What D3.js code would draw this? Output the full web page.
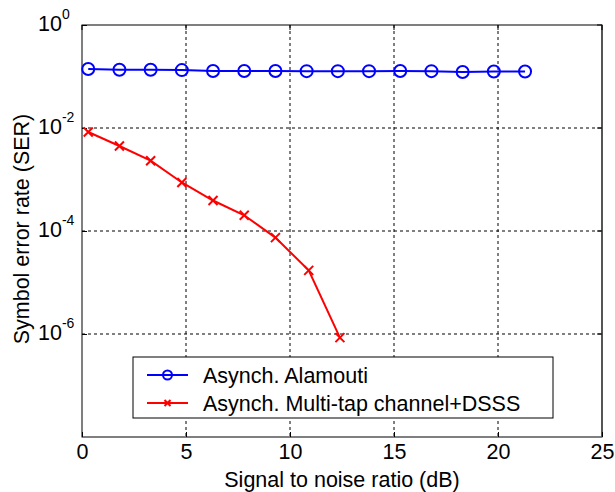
<!DOCTYPE html>
<html><head><meta charset="utf-8">
<script src="https://cdn.jsdelivr.net/npm/d3@7"></script>
<style>body{margin:0;background:#fff;} text{font-family:"Liberation Sans",Arial,sans-serif;}</style>
</head><body>
<svg id="c" width="615" height="492"></svg>
<script>
const snrA = [0.3,1.8,3.3,4.8,6.3,7.8,9.3,10.8,12.3,13.8,15.3,16.8,18.3,19.8,21.3];
const serA = [0.14,0.135,0.135,0.133,0.128,0.128,0.128,0.127,0.127,0.127,0.128,0.127,0.122,0.125,0.125];
const snrB = [0.3,1.8,3.3,4.8,6.3,7.8,9.3,10.9,12.4];
const serB = [8.35e-3,4.47e-3,2.32e-3,8.75e-4,3.91e-4,2.02e-4,7.44e-5,1.72e-5,8.5e-7];
const xTicks = [0,5,10,15,20,25];
const yTicks = [1e0,1e-2,1e-4,1e-6];
const yExp = ["0","-2","-4","-6"];
const names = ["Asynch. Alamouti","Asynch. Multi-tap channel+DSSS"];

const FS = 21.5;
const svg = d3.select("#c");
const L=82,R=602,T=25,B=437;
const x = d3.scaleLinear().domain([0,25]).range([L,R]);
const y = d3.scaleLog().domain([1e-8,1]).range([B,T]);

// grid
const g = svg.append("g");
g.selectAll(".gx").data(xTicks.filter(d=>d>0&&d<25)).enter().append("line")
 .attr("x1",d=>x(d)).attr("x2",d=>x(d)).attr("y1",T).attr("y2",B)
 .attr("stroke","#000").attr("stroke-width",1).attr("stroke-dasharray","3,3");
g.selectAll(".gy").data(yTicks.filter(d=>d<1)).enter().append("line")
 .attr("y1",d=>y(d)).attr("y2",d=>y(d)).attr("x1",L).attr("x2",R)
 .attr("stroke","#000").attr("stroke-width",1).attr("stroke-dasharray","3,3");

// box
svg.append("rect").attr("x",L).attr("y",T).attr("width",R-L).attr("height",B-T)
 .attr("fill","none").attr("stroke","#000").attr("stroke-width",1);
svg.append("line").attr("x1",R).attr("x2",R).attr("y1",T).attr("y2",B).attr("stroke","#555").attr("stroke-width",2);

// x axis ticks (inside)
const xa = d3.axisBottom(x).tickValues(xTicks).tickSize(-5).tickPadding(7).tickFormat(d3.format("d"));
const gx = svg.append("g").attr("transform",`translate(0,${B})`).call(xa);
gx.select(".domain").remove();
gx.selectAll("text").attr("font-size",FS).attr("font-family","Liberation Sans, Arial, sans-serif").attr("fill","#000");
gx.selectAll("line").attr("stroke","#000");
svg.selectAll(".tt").data(xTicks).enter().append("line")
 .attr("x1",d=>x(d)).attr("x2",d=>x(d)).attr("y1",T).attr("y2",T+5).attr("stroke","#000");
// y ticks
const ya = d3.axisLeft(y).tickValues(yTicks).tickSize(-5).tickFormat("");
const gy = svg.append("g").attr("transform",`translate(${L},0)`).call(ya);
gy.select(".domain").remove();
gy.selectAll("line").attr("stroke","#000");
svg.selectAll(".rt").data(yTicks).enter().append("line")
 .attr("x1",R).attr("x2",R-5).attr("y1",d=>y(d)).attr("y2",d=>y(d)).attr("stroke","#000");

// y tick labels with superscripts
yTicks.forEach((v,i)=>{
  const t = svg.append("text").attr("x",38).attr("y",y(v)+5.5).attr("text-anchor","start")
   .attr("font-size",FS).attr("fill","#000");
  t.append("tspan").text("10");
  t.append("tspan").attr("dy",-12).attr("font-size",14).text(yExp[i]);
});

// series
const lineA = d3.line().x((d,i)=>x(snrA[i])).y(d=>y(d));
svg.append("path").attr("d",lineA(serA)).attr("fill","none").attr("stroke","#0000ff").attr("stroke-width",2);
svg.selectAll(".ma").data(serA).enter().append("circle")
 .attr("cx",(d,i)=>x(snrA[i])).attr("cy",d=>y(d)).attr("r",6)
 .attr("fill","none").attr("stroke","#0000ff").attr("stroke-width",2);

const lineB = d3.line().x((d,i)=>x(snrB[i])).y(d=>y(d));
svg.append("path").attr("d",lineB(serB)).attr("fill","none").attr("stroke","#ff0000").attr("stroke-width",2);
const s=4.5;
svg.selectAll(".mb").data(serB).enter().append("path")
 .attr("d",(d,i)=>{const cx=x(snrB[i]),cy=y(d);return `M${cx-s},${cy-s}L${cx+s},${cy+s}M${cx-s},${cy+s}L${cx+s},${cy-s}`;})
 .attr("stroke","#ff0000").attr("stroke-width",2).attr("fill","none");

// legend
const lg = svg.append("g");
lg.append("rect").attr("x",133).attr("y",357).attr("width",420).attr("height",61)
 .attr("fill","#fff").attr("stroke","#000").attr("stroke-width",1);
const cols=["#0000ff","#ff0000"];
[0,1].forEach(i=>{
  const cy = 375 + i*28;
  lg.append("line").attr("x1",147).attr("x2",188).attr("y1",cy).attr("y2",cy).attr("stroke",cols[i]).attr("stroke-width",2);
  if(i===0) lg.append("circle").attr("cx",167.5).attr("cy",cy).attr("r",4.5).attr("fill","none").attr("stroke",cols[i]).attr("stroke-width",2);
  else { const a=3; lg.append("path").attr("d",`M${167.5-a},${cy-a}L${167.5+a},${cy+a}M${167.5-a},${cy+a}L${167.5+a},${cy-a}`).attr("stroke",cols[i]).attr("stroke-width",2);}
  lg.append("text").attr("x",203).attr("y",cy+8).attr("font-size",FS).attr("fill","#000").text(names[i]);
});

// axis labels
svg.append("text").attr("x",(L+R)/2).attr("y",487).attr("text-anchor","middle").attr("font-size",FS).attr("fill","#000").text("Signal to noise ratio (dB)");
svg.append("text").attr("transform","translate(29,229) rotate(-90)").attr("text-anchor","middle").attr("font-size",FS).attr("fill","#000").text("Symbol error rate (SER)");
</script>
</body></html>
